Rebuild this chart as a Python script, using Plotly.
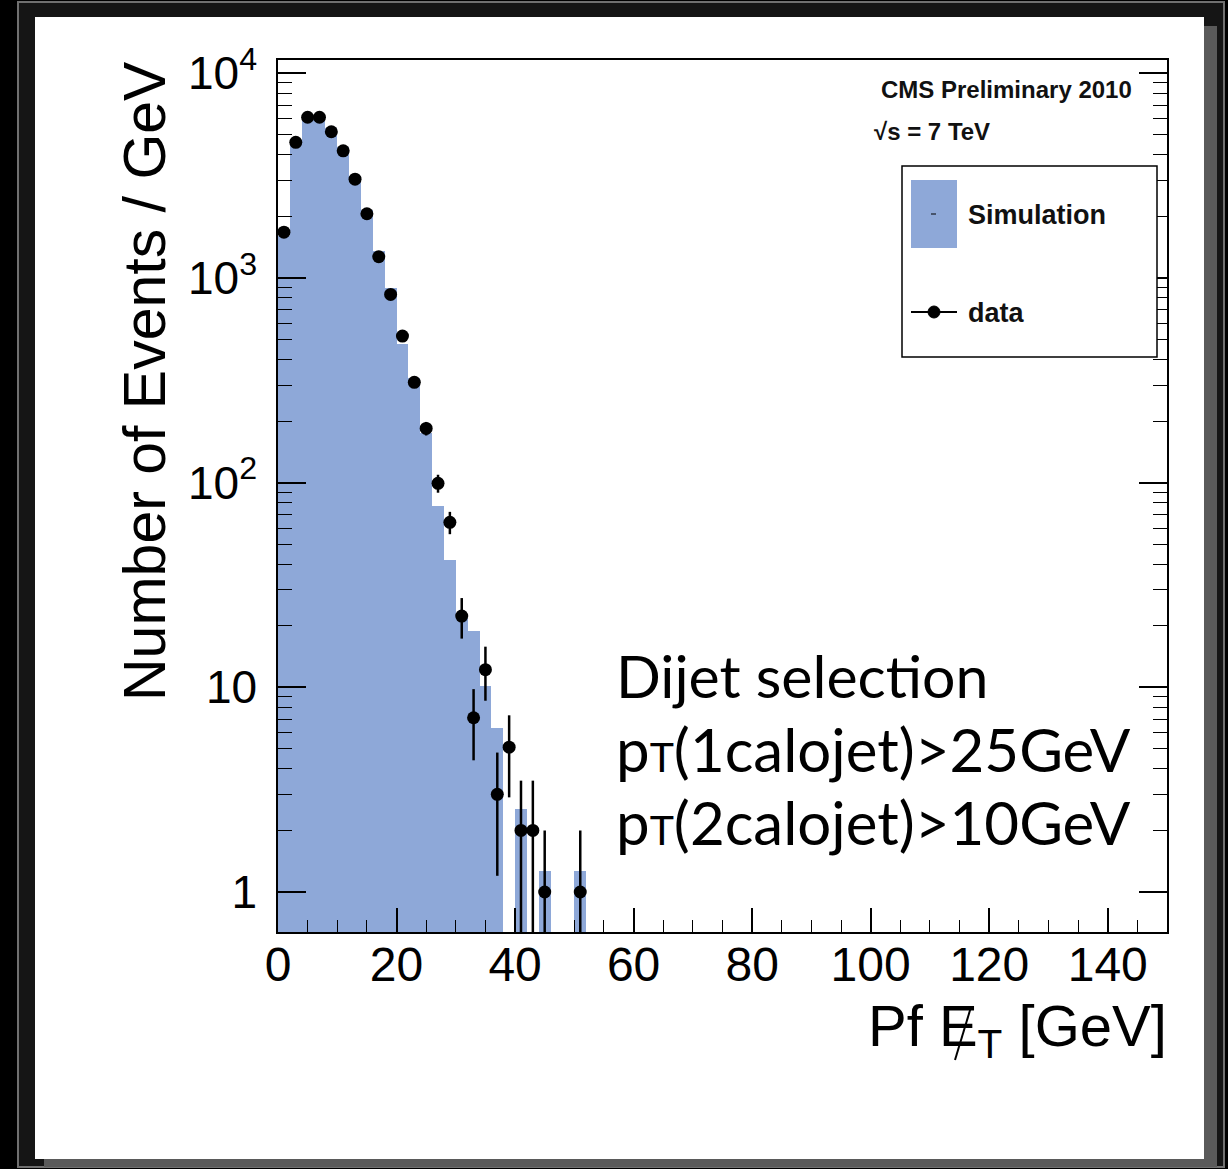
import plotly.graph_objects as go

# ---------------- data ----------------
# simulation histogram (2 GeV bins, lower edges) -> events / GeV
sim_bin_low = [0, 2, 4, 6, 8, 10, 12, 14, 16, 18, 20, 22, 24, 26, 28, 30, 32, 34, 36, 38, 40, 42, 44, 46, 48, 50]
sim_values = [1600, 4650, 6000, 6000, 5380, 4380, 3150, 2150, 1350, 890, 475, 326, 175, 77, 42,
              21.7, 18.9, 10.2, 6.3, None, 2.54, None, 1.26, None, None, 1.26]

# data points (bin centres)
data_x = [1, 3, 5, 7, 9, 11, 13, 15, 17, 19, 21, 23, 25, 27, 29, 31, 33, 35, 37, 39, 41, 43, 45, 51]
data_y = [1675, 4600, 6100, 6100, 5180, 4180, 3040, 2060, 1270, 831, 520, 309, 184, 99.3, 64,
          22.3, 7.1, 12.2, 3.0, 5.1, 2.0, 2.0, 1.0, 1.0]
data_err_up = [41, 68, 78, 78, 72, 65, 55, 45, 36, 29, 23, 18, 14, 10, 8,
               5.0, 2.7, 3.6, 1.8, 2.2, 1.5, 1.5, 1.0, 1.0]
data_err_down = [41, 68, 78, 78, 72, 65, 55, 45, 36, 29, 23, 18, 14, 10, 8,
                 5.0, 2.7, 3.6, 1.8, 2.2, 1.5, 1.5, 0.99, 0.99]

bin_width = 2
x_tick_vals = [0, 20, 40, 60, 80, 100, 120, 140]
y_tick_vals = [1, 10, 100, 1000, 10000]
y_tick_text = ["1", "10", "10<sup>2</sup>", "10<sup>3</sup>", "10<sup>4</sup>"]
y_minor_vals = [m * d for d in [1, 10, 100, 1000] for m in range(2, 10)]

# ---------------- layout geometry ----------------
W, H = 1228, 1169
L, R, T, B = 278, 61, 60, 237
PW, PH = W - L - R, H - T - B


def fx(px):
    return (px - L) / PW


def fy(py):
    return (H - B - py) / PH


SIM_COLOR = "#8ea8d8"
FONT = "Liberation Sans, Arial, Helvetica, sans-serif"
GILL = "Lato, Noto Sans, sans-serif"

fig = go.Figure()

fig.add_trace(go.Bar(
    x=[b + bin_width / 2 for b in sim_bin_low],
    y=sim_values,
    width=bin_width,
    marker=dict(color=SIM_COLOR, line=dict(width=0)),
    name="Simulation",
    showlegend=False,
))

fig.add_trace(go.Scatter(
    x=data_x, y=data_y, mode="markers",
    marker=dict(color="black", size=13),
    error_y=dict(type="data", symmetric=False, array=data_err_up, arrayminus=data_err_down,
                 color="black", thickness=2.5, width=0),
    name="data",
    showlegend=False,
))

shapes = []
# slide-style background frame
shapes.append(dict(type="rect", xref="paper", yref="paper", layer="below",
                   x0=fx(18), x1=fx(1224), y0=fy(1167), y1=fy(2),
                   fillcolor="#151515", line=dict(color="#707070", width=2)))
shapes.append(dict(type="rect", xref="paper", yref="paper", layer="below",
                   x0=fx(44), x1=fx(1217), y0=fy(1167), y1=fy(26),
                   fillcolor="#5a5a5a", line=dict(width=0)))
shapes.append(dict(type="rect", xref="paper", yref="paper", layer="below",
                   x0=fx(35), x1=fx(1204), y0=fy(1159), y1=fy(17),
                   fillcolor="white", line=dict(width=0)))
# legend box
shapes.append(dict(type="rect", xref="paper", yref="paper", layer="above",
                   x0=fx(902), x1=fx(1157), y0=fy(357), y1=fy(166),
                   fillcolor="white", line=dict(color="black", width=1.5)))
shapes.append(dict(type="rect", xref="paper", yref="paper", layer="above",
                   x0=fx(911), x1=fx(957), y0=fy(248), y1=fy(180),
                   fillcolor=SIM_COLOR, line=dict(width=0)))
shapes.append(dict(type="line", xref="paper", yref="paper", layer="above",
                   x0=fx(931), x1=fx(936), y0=fy(214), y1=fy(214),
                   line=dict(color="black", width=1)))
shapes.append(dict(type="line", xref="paper", yref="paper", layer="above",
                   x0=fx(911), x1=fx(957), y0=fy(312), y1=fy(312),
                   line=dict(color="black", width=2)))
shapes.append(dict(type="circle", xref="paper", yref="paper", layer="above",
                   x0=fx(928), x1=fx(940), y0=fy(318), y1=fy(306),
                   fillcolor="black", line=dict(color="black", width=1)))
# slash of the missing-ET symbol
shapes.append(dict(type="line", xref="paper", yref="paper", layer="above",
                   x0=fx(955), x1=fx(971), y0=fy(1060), y1=fy(1007),
                   line=dict(color="black", width=2)))

annotations = [
    dict(text="Number of Events / GeV", textangle=-90, x=fx(145), y=fy(381),
         xanchor="center", yanchor="middle", font=dict(family=FONT, size=59, color="black")),
    dict(text="Pf E<sub>T</sub> [GeV]", x=fx(1169), y=fy(1030), xanchor="right", yanchor="middle",
         font=dict(family=FONT, size=58, color="black")),
    dict(text="<b>CMS Preliminary 2010</b>", x=fx(879), y=fy(89), xanchor="left", yanchor="middle",
         font=dict(family=FONT, size=24, color="#111")),
    dict(text="<b>√s = 7 TeV</b>", x=fx(872), y=fy(131), xanchor="left", yanchor="middle",
         font=dict(family=FONT, size=24, color="#111")),
    dict(text="<b>Simulation</b>", x=fx(966), y=fy(215), xanchor="left", yanchor="middle",
         font=dict(family=FONT, size=27, color="#111")),
    dict(text="<b>data</b>", x=fx(966), y=fy(313), xanchor="left", yanchor="middle",
         font=dict(family=FONT, size=27, color="#111")),
    dict(text="Dijet selection", x=fx(614), y=fy(675), xanchor="left", yanchor="middle",
         font=dict(family=GILL, size=59, color="black")),
    dict(text="p<span style='font-size:41px'>T</span>(1calojet)&gt;25GeV", x=fx(614), y=fy(749),
         xanchor="left", yanchor="middle",
         font=dict(family=GILL, size=60, color="black")),
    dict(text="p<span style='font-size:41px'>T</span>(2calojet)&gt;10GeV", x=fx(614), y=fy(822),
         xanchor="left", yanchor="middle",
         font=dict(family=GILL, size=60, color="black")),
]
for a in annotations:
    a.update(xref="paper", yref="paper", showarrow=False)

fig.update_layout(
    width=W, height=H,
    margin=dict(l=L, r=R, t=T, b=B, pad=0),
    paper_bgcolor="black",
    plot_bgcolor="white",
    bargap=0,
    showlegend=False,
    shapes=shapes,
    annotations=annotations,
    font=dict(family=FONT, color="black"),
)

fig.update_xaxes(
    range=[0, 150], tickmode="array", tickvals=x_tick_vals,
    ticks="inside", ticklen=24, tickwidth=1.5, tickcolor="black",
    minor=dict(dtick=5, ticks="inside", ticklen=12, tickwidth=1.2, tickcolor="black", showgrid=False),
    showline=True, linecolor="black", linewidth=1.5, mirror=True,
    showgrid=False, zeroline=False,
    tickfont=dict(family=FONT, size=48, color="black"),
    ticklabelstandoff=-10,
)
fig.update_yaxes(
    type="log", range=[-0.1954, 4.065], tickmode="array", tickvals=y_tick_vals, ticktext=y_tick_text,
    ticks="inside", ticklen=28, tickwidth=1.5, tickcolor="black",
    minor=dict(tickmode="array", tickvals=y_minor_vals, ticks="inside", ticklen=14, tickwidth=1.2,
               tickcolor="black", showgrid=False),
    showline=True, linecolor="black", linewidth=1.5, mirror="ticks",
    showgrid=False, zeroline=False,
    tickfont=dict(family=FONT, size=46, color="black"),
    ticklabelstandoff=10,
)

fig.write_html("out.html")
